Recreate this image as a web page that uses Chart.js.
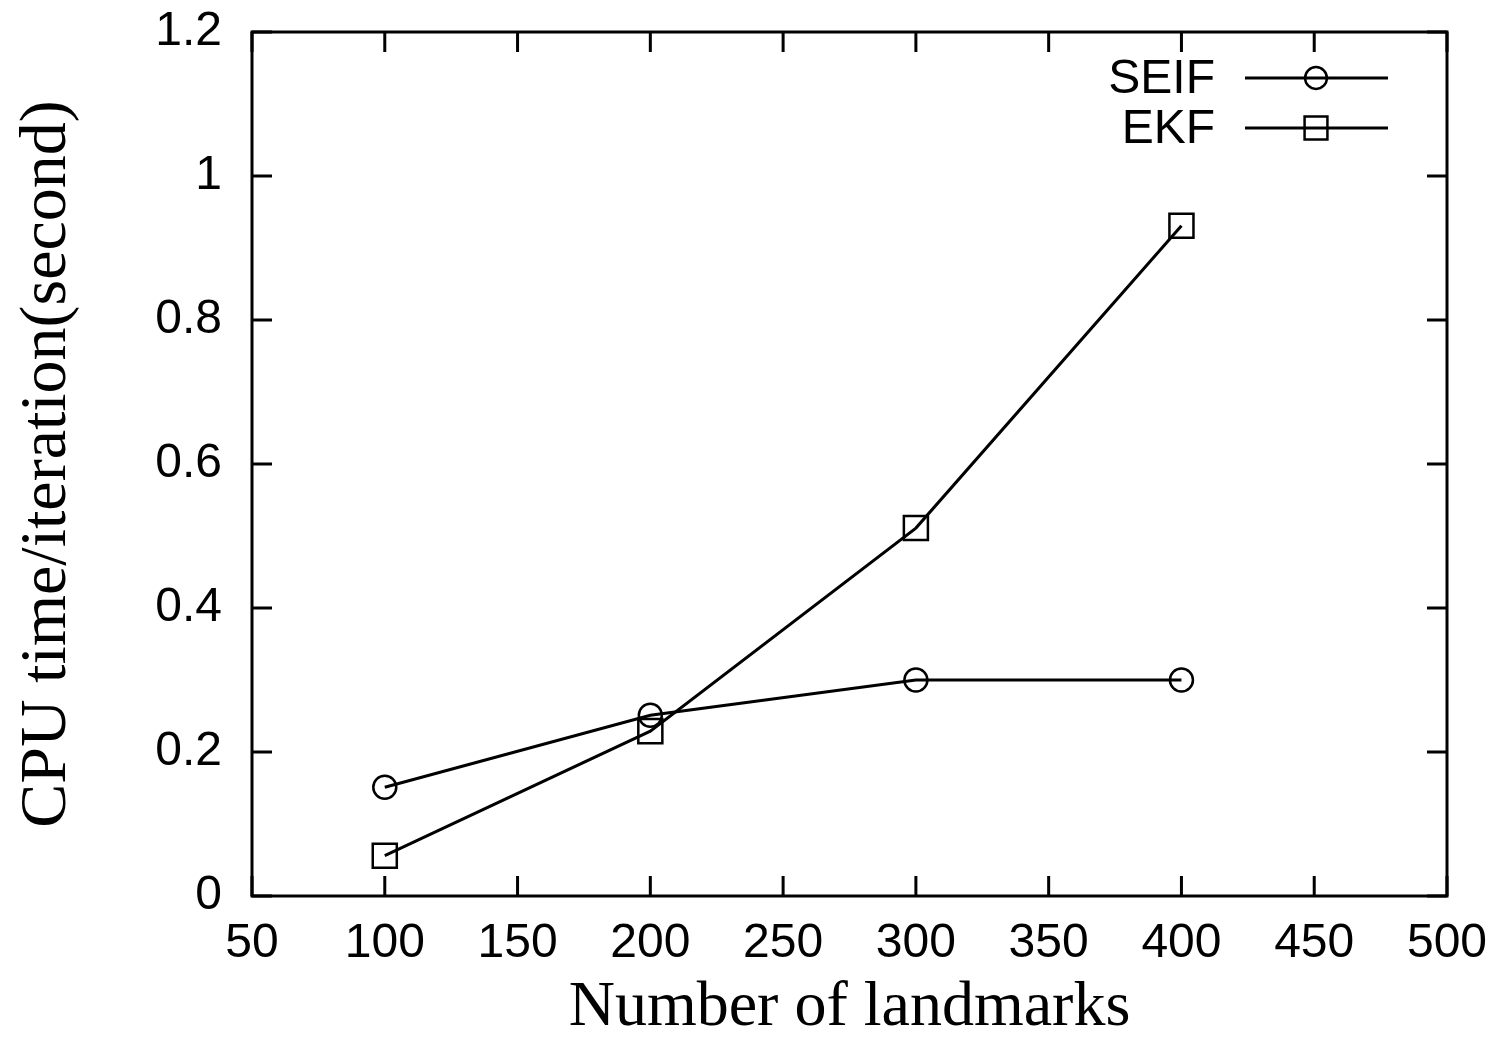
<!DOCTYPE html>
<html>
<head>
<meta charset="utf-8">
<script src="https://cdn.jsdelivr.net/npm/chart.js@4"></script>
<style>
  html, body { margin: 0; padding: 0; background: #fff; }
  #wrap { width: 1503px; height: 1042px; }
</style>
</head>
<body>
<div id="wrap"><canvas id="cpuChart"></canvas></div>
<script>
const landmarks = [100, 200, 300, 400];
const seif = [0.151, 0.251, 0.30, 0.30];
const ekf = [0.056, 0.229, 0.511, 0.931];
const seriesNames = ['SEIF', 'EKF'];
const xTitle = 'Number of landmarks';
const yTitle = 'CPU time/iteration(second)';

const tickFont = { family: '"Liberation Sans", Arial, sans-serif', size: 48 };
const titleFont = { family: '"Liberation Serif", "Times New Roman", serif', size: 64, lineHeight: 1 };

// gnuplot-ish frame: box on all sides, ticks pointing in, mirrored
const frame = {
    id: 'frame',
    afterDraw(chart) {
        const { ctx, chartArea: a, scales } = chart;
        const len = 20;
        ctx.save();
        ctx.strokeStyle = '#000';
        ctx.lineWidth = 3;
        ctx.strokeRect(a.left, a.top, a.right - a.left, a.bottom - a.top);
        ctx.beginPath();
        scales.x.ticks.forEach(t => {
            const px = scales.x.getPixelForValue(t.value);
            ctx.moveTo(px, a.bottom); ctx.lineTo(px, a.bottom - len);
            ctx.moveTo(px, a.top); ctx.lineTo(px, a.top + len);
        });
        scales.y.ticks.forEach(t => {
            const py = scales.y.getPixelForValue(t.value);
            ctx.moveTo(a.left, py); ctx.lineTo(a.left + len, py);
            ctx.moveTo(a.right, py); ctx.lineTo(a.right - len, py);
        });
        ctx.stroke();

        // key, top right inside the box
        ctx.font = `${tickFont.size}px ${tickFont.family}`;
        ctx.textAlign = 'right';
        ctx.textBaseline = 'middle';
        chart.data.datasets.forEach((ds, i) => {
            const y = a.top + 46 + i * 50;
            const x1 = a.right - 202, x2 = a.right - 59, xm = a.right - 131;
            ctx.fillStyle = '#000';
            ctx.fillText(ds.label, a.right - 232, y + 2);
            ctx.lineWidth = ds.borderWidth;
            ctx.beginPath();
            ctx.moveTo(x1, y); ctx.lineTo(x2, y);
            ctx.stroke();
            ctx.lineWidth = ds.pointBorderWidth;
            ctx.fillStyle = 'rgba(0,0,0,0)';
            Chart.helpers.drawPoint(ctx, {
                pointStyle: ds.pointStyle,
                radius: ds.pointRadius * 0.95,
                rotation: 0,
                borderWidth: ds.pointBorderWidth
            }, xm, y);
        });
        ctx.restore();
    }
};

new Chart(document.getElementById('cpuChart'), {
    type: 'line',
    data: {
        datasets: [{
            label: seriesNames[0],
            data: landmarks.map((x, i) => ({ x: x, y: seif[i] })),
            borderColor: '#000',
            borderWidth: 3,
            pointStyle: 'circle',
            pointRadius: 11.5,
            pointBorderWidth: 2.5,
            pointBorderColor: '#000',
            pointBackgroundColor: 'rgba(0,0,0,0)',
            tension: 0
        }, {
            label: seriesNames[1],
            data: landmarks.map((x, i) => ({ x: x, y: ekf[i] })),
            borderColor: '#000',
            borderWidth: 3,
            pointStyle: 'rect',
            pointRadius: 17,
            pointBorderWidth: 2.5,
            pointBorderColor: '#000',
            pointBackgroundColor: 'rgba(0,0,0,0)',
            tension: 0
        }]
    },
    options: {
        responsive: true,
        maintainAspectRatio: false,
        animation: false,
        layout: { padding: { left: 0, right: 56, top: 32, bottom: 0 } },
        plugins: {
            legend: { display: false },
            tooltip: { enabled: false }
        },
        scales: {
            x: {
                type: 'linear',
                min: 50,
                max: 500,
                ticks: { stepSize: 50, color: '#000', font: tickFont, padding: 19, maxRotation: 0 },
                grid: { display: false, drawTicks: false },
                border: { display: false },
                title: { display: true, text: xTitle, color: '#000', font: titleFont, padding: { top: 0, bottom: 2 } },
                afterFit: (s) => { s.height = 146; s.paddingLeft = 0; s.paddingRight = 0; }
            },
            y: {
                type: 'linear',
                min: 0,
                max: 1.2,
                ticks: {
                    stepSize: 0.2, color: '#000', font: tickFont, padding: 30,
                    callback: (v) => String(Number(v.toFixed(1)))
                },
                grid: { display: false, drawTicks: false },
                border: { display: false },
                title: { display: true, text: yTitle, color: '#000', font: { family: titleFont.family, size: 66, lineHeight: 1 }, padding: { top: 15, bottom: 0 } },
                afterFit: (s) => { s.width = 252; s.paddingTop = 0; s.paddingBottom = 0; }
            }
        }
    },
    plugins: [frame]
});
</script>
</body>
</html>
